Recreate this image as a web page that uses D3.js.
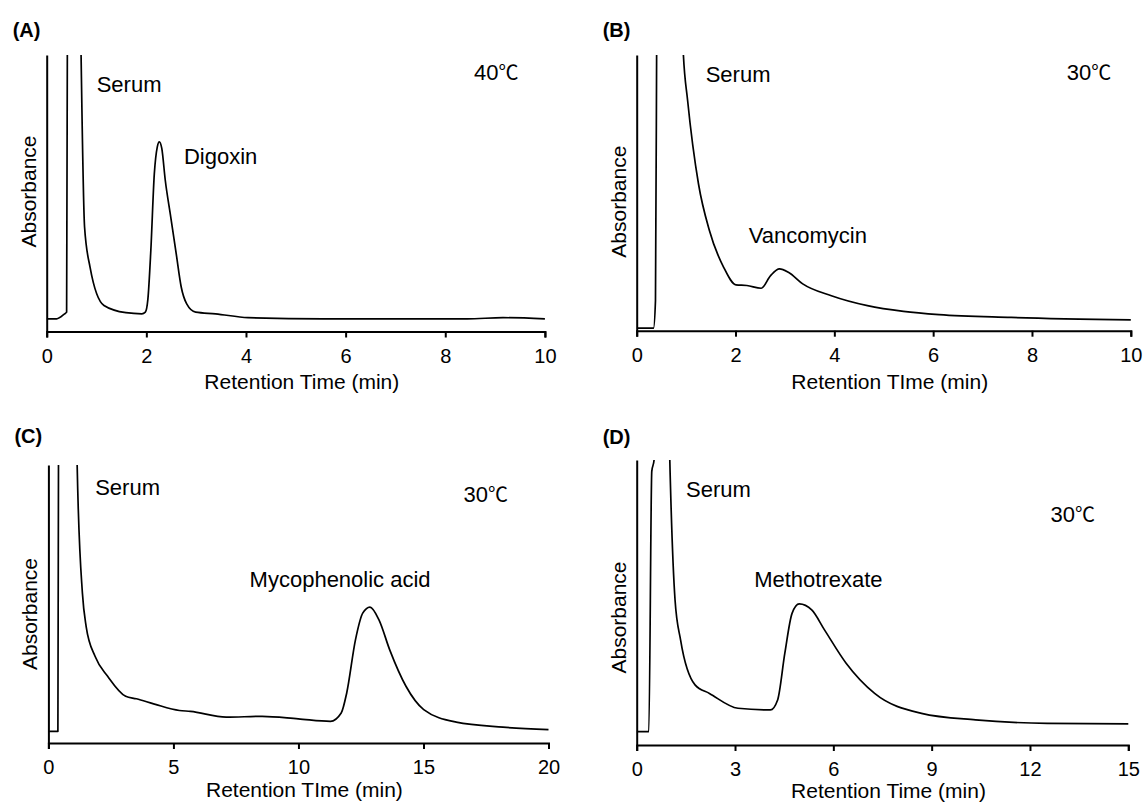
<!DOCTYPE html>
<html>
<head>
<meta charset="utf-8">
<script src="https://cdn.jsdelivr.net/npm/d3@7"></script>
<style>
	html, body { margin: 0; padding: 0; background: #fff; }
	svg text { font-family: "Liberation Sans", Arial, sans-serif; fill: #000; }
	.trace { fill: none; stroke: #000; stroke-width: 1.7; stroke-linejoin: round; }
	.axis path, .axis line { stroke: #000; stroke-width: 2; }
	.axis text { font-size: 20px; }
	.panel-label { font-size: 20px; font-weight: bold; }
	.note { font-size: 22px; }
	.axis-title { font-size: 21px; }
</style>
</head>
<body>
<svg id="chart" width="1144" height="811"></svg>
<script>

// (A) digoxin, 40°C
var aTime = [0, 0.2, 0.36, 0.4, 0.42, 0.55, 0.66, 0.69, 0.76, 0.87, 1.15, 1.59, 1.91, 1.98, 2.03, 2.09, 2.16, 2.22, 2.26, 2.31, 2.38, 2.49, 2.6, 2.7, 2.81, 2.99, 3.39, 4.04, 5.55, 8.44, 9.16, 10];
var aAbs = [4.6, 4.6, 6.4, 7.0, 140, 220, 140, 100, 37.8, 23.3, 9.4, 6.8, 6.4, 7.0, 11.5, 29.3, 57, 66.8, 68.6, 66.2, 54.7, 41.4, 28.1, 16.1, 10.0, 7.0, 6.4, 5.0, 4.6, 4.6, 5.0, 4.6];
var aTicks = [0, 2, 4, 6, 8, 10];

// (B) vancomycin, 30°C
var bTime = [0, 0.34, 0.38, 0.41, 0.6, 0.85, 0.945, 1.03, 1.25, 1.47, 1.76, 2.01, 2.23, 2.52, 2.71, 2.89, 3.07, 3.36, 3.94, 4.67, 5.4, 6.12, 7.58, 10];
var bAbs = [0.9, 0.9, 10.9, 130, 400, 150, 100, 83.6, 53.3, 36.4, 23.0, 16.6, 16.4, 15.4, 20.0, 22.4, 21.2, 17.0, 12.7, 9.1, 7.0, 5.8, 4.8, 3.9];
var bTicks = [0, 2, 4, 6, 8, 10];

// (C) mycophenolic acid, 30°C
var cTime = [0, 0.36, 0.38, 0.41, 0.7, 1.0, 1.12, 1.15, 1.36, 1.51, 1.87, 2.37, 3.09, 3.52, 4.24, 5.24, 5.68, 7.11, 8.55, 9.99, 11.28, 11.71, 11.93, 12.28, 12.57, 12.86, 13.22, 13.65, 14.3, 15.01, 16.31, 18.18, 20];
var cAbs = [4.2, 4.2, 4.2, 130, 300, 200, 130, 100, 53.9, 41.9, 31.1, 24.0, 16.8, 15.9, 14.0, 11.7, 11.4, 9.3, 9.6, 8.7, 7.8, 10.8, 18.0, 37.1, 46.7, 48.9, 44.3, 33.5, 20.4, 12.0, 7.5, 5.7, 4.8];
var cTicks = [0, 5, 10, 15, 20];

// (D) methotrexate, 30°C
var dTime = [0, 0.37, 0.46, 0.53, 0.6, 0.8, 0.97, 1.01, 1.17, 1.34, 1.78, 2.22, 3.09, 4.08, 4.3, 4.52, 4.74, 4.96, 5.34, 5.73, 6.39, 7.26, 8.69, 10.34, 12.53, 15];
var dAbs = [4.7, 4.7, 96, 100, 115, 200, 120, 100, 50.9, 36.8, 21.1, 18.1, 12.9, 12.3, 15.8, 32.2, 46.2, 49.5, 47.4, 40.4, 28.7, 18.1, 11.1, 8.8, 7.6, 7.4];
var dTicks = [0, 3, 6, 9, 12, 15];

var xTitles = ["Retention Time (min)", "Retention TIme (min)", "Retention TIme (min)", "Retention Time (min)"];


window.app = window.app || {};

window.app.chromatograms = (function() {

	'use strict';

	var svg = d3.select("#chart");

	// panel frames in page pixels (plot area only) and where the texts sit
	var panels = [
		{ id: "a", label: "(A)", labelY: 37, time: aTime, abs: aAbs, ticks: aTicks, title: xTitles[0], titleDy: 57, absY: 191.5,
			left: 46.7, right: 544.9, top: 55, bottom: 331.5,
			peak: "Digoxin", peakAt: [183.9, 164], serumAt: [96.7, 91.7], temp: "40", tempAt: [474, 80] },
		{ id: "b", label: "(B)", labelY: 37, time: bTime, abs: bAbs, ticks: bTicks, title: xTitles[1], titleDy: 58, absY: 201.7,
			left: 636.7, right: 1130.8, top: 55, bottom: 330.7,
			peak: "Vancomycin", peakAt: [748.8, 243.3], serumAt: [705.7, 81.7], temp: "30", tempAt: [1066.7, 80] },
		{ id: "c", label: "(C)", labelY: 443, time: cTime, abs: cAbs, ticks: cTicks, title: xTitles[2], titleDy: 54, absY: 614,
			left: 48.4, right: 548.5, top: 465, bottom: 743,
			peak: "Mycophenolic acid", peakAt: [249.6, 586.7], serumAt: [95.2, 495], temp: "30", tempAt: [463.4, 501.7] },
		{ id: "d", label: "(D)", labelY: 444, time: dTime, abs: dAbs, ticks: dTicks, title: xTitles[3], titleDy: 53, absY: 617.5,
			left: 636.7, right: 1128.3, top: 460, bottom: 745,
			peak: "Methotrexate", peakAt: [754.2, 586.7], serumAt: [686, 496.7], temp: "30", tempAt: [1050.5, 521.7] }
	];


	/**
	* draw one chromatogram panel
	* @param {object} p panel definition
	* @returns {undefined}
	*/
	var drawPanel = function(p) {
		var maxT = p.ticks[p.ticks.length - 1];

		var x = d3.scaleLinear()
			.domain([0, maxT])
			.range([p.left, p.right]);

		var y = d3.scaleLinear()
			.domain([0, 100])
			.range([p.bottom, p.top]);

		// clip so the off-scale serum peak is cut at the top of the y axis
		svg.append("clipPath")
			.attr("id", "clip-" + p.id)
			.append("rect")
			.attr("x", p.left)
			.attr("y", p.top)
			.attr("width", p.right - p.left + 4)
			.attr("height", p.bottom - p.top);

		var points = p.time.map(function(t, i) { return [t, p.abs[i]]; });

		var line = d3.line()
			.curve(d3.curveMonotoneX)
			.x(function(d) { return x(d[0]); })
			.y(function(d) { return y(d[1]); });

		svg.append("path")
			.datum(points)
			.attr("class", "trace")
			.attr("clip-path", "url(#clip-" + p.id + ")")
			.attr("d", line);

		// axes
		svg.append("g")
			.attr("class", "axis")
			.attr("transform", "translate(0," + p.bottom + ")")
			.call(d3.axisBottom(x).tickValues(p.ticks).tickSize(6).tickPadding(11).tickFormat(d3.format("d")));

		svg.append("g")
			.attr("class", "axis")
			.attr("transform", "translate(" + p.left + ",0)")
			.call(d3.axisLeft(y).tickValues([]).tickSizeOuter(0));

		svg.selectAll(".axis text").attr("font-family", null).attr("font-size", null);

		// texts
		svg.append("text")
			.attr("class", "panel-label")
			.attr("x", p.left - 34)
			.attr("y", p.labelY)
			.text(p.label);

		svg.append("text")
			.attr("class", "axis-title")
			.attr("x", (p.left + p.right) / 2 + 6)
			.attr("y", p.bottom + p.titleDy)
			.attr("text-anchor", "middle")
			.text(p.title);

		svg.append("text")
			.attr("class", "axis-title")
			.attr("transform", "translate(" + (p.left - 11) + "," + p.absY + ") rotate(-90)")
			.attr("text-anchor", "middle")
			.text("Absorbance");

		svg.append("text")
			.attr("class", "note")
			.attr("x", p.serumAt[0])
			.attr("y", p.serumAt[1])
			.text("Serum");

		svg.append("text")
			.attr("class", "note")
			.attr("x", p.peakAt[0])
			.attr("y", p.peakAt[1])
			.text(p.peak);

		var temp = svg.append("text")
			.attr("class", "note")
			.attr("x", p.tempAt[0])
			.attr("y", p.tempAt[1]);
		temp.append("tspan").text(p.temp);
		temp.append("tspan")
			.style("font-family", "'Noto Sans CJK JP', 'DejaVu Sans', sans-serif")
			.style("font-size", "20px")
			.text("\u2103");
	};


	var init = function() {
		panels.forEach(drawPanel);
	};

	return { init: init };

})();

window.app.chromatograms.init();
</script>
</body>
</html>
